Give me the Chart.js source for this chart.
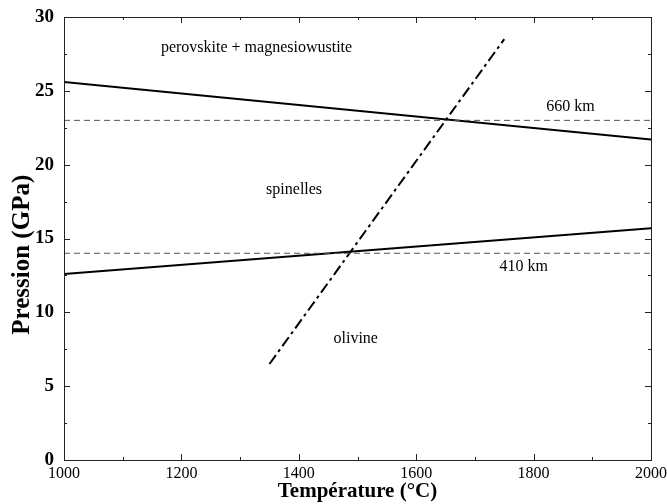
<!DOCTYPE html>
<html>
<head>
<meta charset="utf-8">
<script src="https://cdn.jsdelivr.net/npm/chart.js@4"></script>
<style>
  html, body { margin: 0; padding: 0; background: #fff; }
  #wrap { width: 667px; height: 504px; }
</style>
</head>
<body>
<div id="wrap"><canvas id="my-chart" width="667" height="504"></canvas></div>
<script>
'use strict';

// *************** DATA
let xTicks = [1000, 1200, 1400, 1600, 1800, 2000];
let yTicks = [0, 5, 10, 15, 20, 25, 30];

// phase boundaries (temperature, pressure)
let upperLineX = [1000, 2000];
let upperLineY = [25.6, 21.7];
let lowerLineX = [1000, 2000];
let lowerLineY = [12.6, 15.7];
let geothermX = [1350, 1750];
let geothermY = [6.5, 28.5];

// depth references
let depthX = [1000, 2000];
let depth660Y = [23, 23];
let depth410Y = [14, 14];

// region labels
let labelTexts = ['perovskite + magnesiowustite', '660 km', 'spinelles', '410 km', 'olivine'];
let labelX = [1328, 1863, 1392, 1783, 1497];
let labelY = [27.9, 23.9, 18.3, 13.1, 8.2];

// *************** HELPERS
function toPoints(xs, ys) {
  let pts = [];
  for (let i = 0; i < xs.length; i++) {
    pts.push({ x: xs[i], y: ys[i] });
  }
  return pts;
}

const SERIF = '"Liberation Serif", "DejaVu Serif", serif';

// frame + inward ticks on all four sides, labels, y title
let framePlugin = {
  id: 'frame',
  afterDatasetsDraw(chart) {
    let ctx = chart.ctx;
    let a = chart.chartArea;
    let xs = chart.scales.x;
    let ys = chart.scales.y;
    ctx.save();
    ctx.strokeStyle = '#222';
    ctx.lineWidth = 1;
    ctx.strokeRect(a.left + 0.5, a.top + 0.5, a.right - a.left, a.bottom - a.top);
    for (let v = 1000; v <= 2000; v += 100) {
      let px = Math.round(xs.getPixelForValue(v)) + 0.5;
      let len = v % 200 === 0 ? 6 : 3;
      ctx.beginPath();
      ctx.moveTo(px, a.bottom); ctx.lineTo(px, a.bottom - len);
      ctx.moveTo(px, a.top); ctx.lineTo(px, a.top + len);
      ctx.stroke();
    }
    for (let v = 0; v <= 30; v += 2.5) {
      let py = Math.round(ys.getPixelForValue(v)) + 0.5;
      let len = v % 5 === 0 ? 6 : 3;
      ctx.beginPath();
      ctx.moveTo(a.left, py); ctx.lineTo(a.left + len, py);
      ctx.moveTo(a.right, py); ctx.lineTo(a.right - len, py);
      ctx.stroke();
    }
    // region labels
    ctx.fillStyle = '#000';
    ctx.font = '16px ' + SERIF;
    ctx.textAlign = 'center';
    ctx.textBaseline = 'middle';
    for (let i = 0; i < labelTexts.length; i++) {
      ctx.fillText(labelTexts[i], xs.getPixelForValue(labelX[i]), ys.getPixelForValue(labelY[i]));
    }
    // y axis title (sits a bit below the axis centre in the original)
    ctx.translate(23, ys.getPixelForValue(13.9));
    ctx.rotate(-Math.PI / 2);
    ctx.font = 'bold 25px ' + SERIF;
    ctx.fillText('Pression (GPa)', 0, 0);
    ctx.restore();
  }
};

// *************** CHART
let chartObj = {
  type: 'scatter',
  data: {
    datasets: [
      {
        label: '660 km',
        data: toPoints(depthX, depth660Y),
        showLine: true,
        borderColor: '#555',
        borderWidth: 1,
        borderDash: [6, 4],
        pointRadius: 0
      },
      {
        label: '410 km',
        data: toPoints(depthX, depth410Y),
        showLine: true,
        borderColor: '#555',
        borderWidth: 1,
        borderDash: [6, 4],
        pointRadius: 0
      },
      {
        label: 'upper',
        data: toPoints(upperLineX, upperLineY),
        showLine: true,
        borderColor: '#000',
        borderWidth: 2,
        pointRadius: 0
      },
      {
        label: 'lower',
        data: toPoints(lowerLineX, lowerLineY),
        showLine: true,
        borderColor: '#000',
        borderWidth: 2,
        pointRadius: 0
      },
      {
        label: 'geotherm',
        data: toPoints(geothermX, geothermY),
        showLine: true,
        borderColor: '#000',
        borderWidth: 2,
        borderDash: [11, 4, 3, 4],
        pointRadius: 0
      }
    ]
  },
  options: {
    responsive: false,
    animation: false,
    layout: { padding: { top: 17, right: 16, left: 0, bottom: 0 } },
    plugins: {
      legend: { display: false },
      tooltip: { enabled: false }
    },
    scales: {
      x: {
        type: 'linear',
        min: 1000,
        max: 2000,
        border: { display: false },
        grid: { display: false, drawTicks: false },
        afterBuildTicks(scale) {
          scale.ticks = xTicks.map(v => ({ value: v }));
        },
        afterFit(scale) {
          scale.height = 44;
          scale.paddingLeft = 0;
          scale.paddingRight = 0;
        },
        ticks: {
          color: '#000',
          padding: 4,
          font: { family: SERIF, size: 16 },
          callback: v => String(v)
        },
        title: {
          display: true,
          text: 'Température (°C)',
          color: '#000',
          padding: { top: 4, bottom: 0 },
          font: { family: SERIF, size: 21, weight: 'bold' }
        }
      },
      y: {
        type: 'linear',
        min: 0,
        max: 30,
        border: { display: false },
        grid: { display: false, drawTicks: false },
        afterBuildTicks(scale) {
          scale.ticks = yTicks.map(v => ({ value: v }));
        },
        afterFit(scale) {
          scale.width = 64;
          scale.paddingTop = 0;
          scale.paddingBottom = 0;
        },
        ticks: {
          color: '#000',
          padding: 10,
          font: { family: SERIF, size: 19, weight: 'bold' }
        }
      }
    }
  },
  plugins: [framePlugin]
};

let ctx = document.getElementById('my-chart').getContext('2d');
let myChart = new Chart(ctx, chartObj);//eslint-disable-line
</script>
</body>
</html>
